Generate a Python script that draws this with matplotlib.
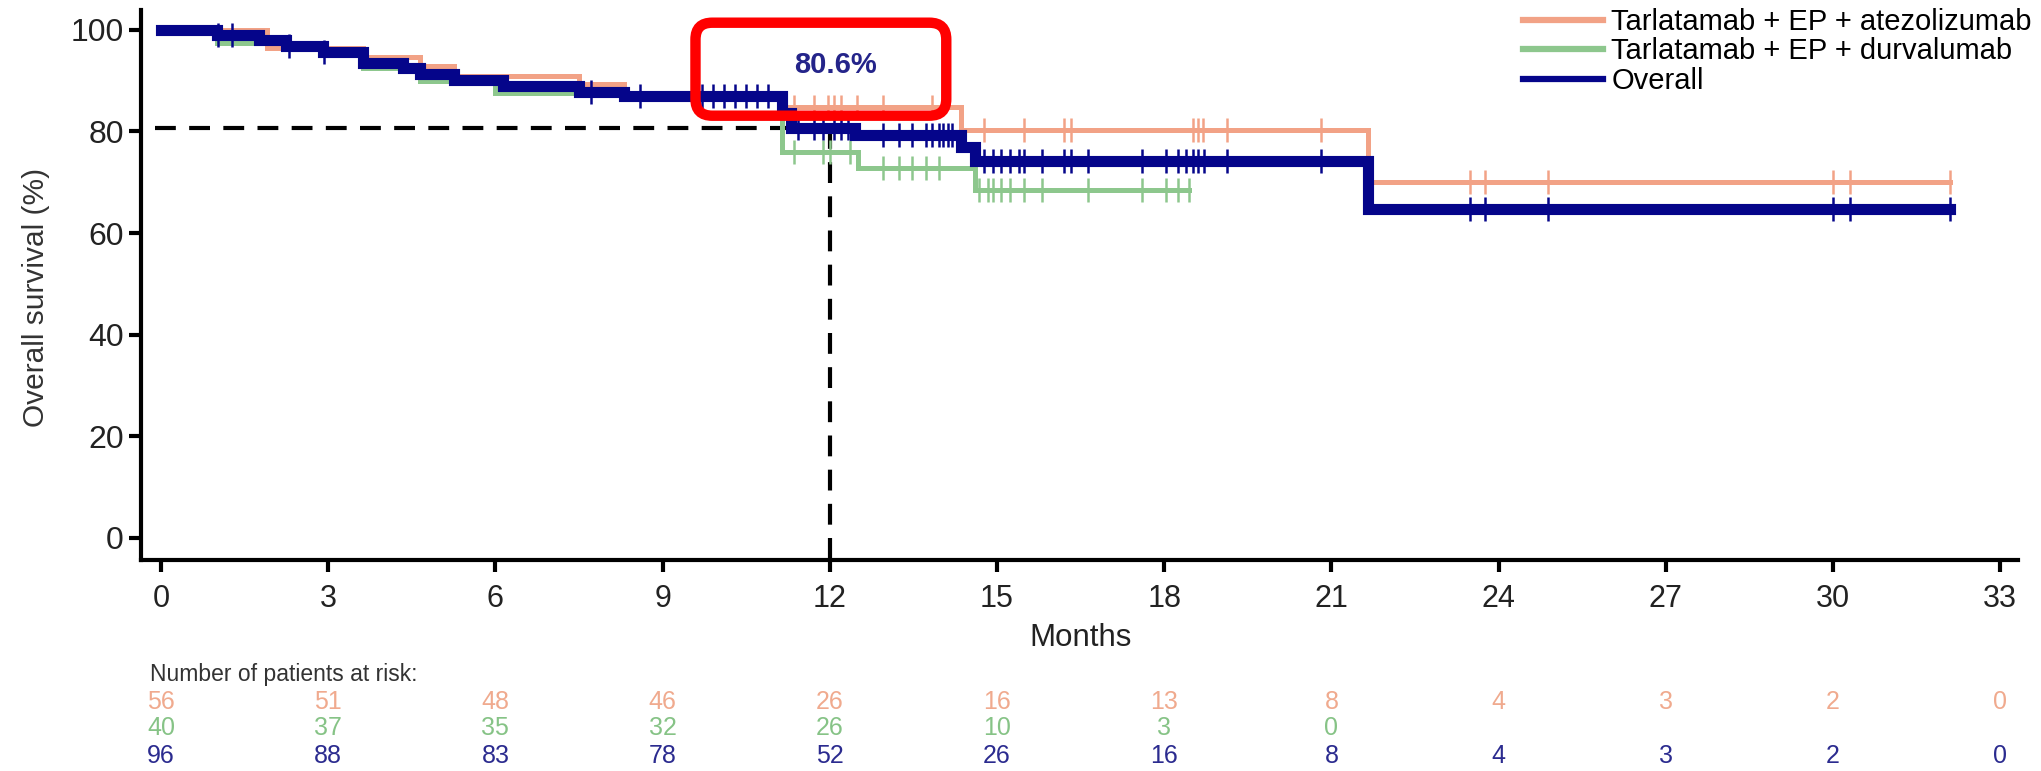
import numpy as np
import matplotlib
matplotlib.use('Agg')
import matplotlib.pyplot as plt
from matplotlib.lines import Line2D
from matplotlib.patches import FancyBboxPatch
from matplotlib import transforms

plt.rcParams['font.family'] = ['Liberation Sans', 'DejaVu Sans']

# --- KM step data (months, overall survival %) ---
atezo_t = [0, 1.9, 3.63, 4.65, 5.25, 7.5, 8.3, 11.2, 14.35, 21.65]
atezo_s = [100, 96.4, 94.6, 92.8, 91.0, 89.3, 87.5, 84.9, 80.3, 70.1]
atezo_end = 32.1
atezo_cens = [11.35, 11.72, 11.96, 12.08, 12.2, 12.48, 12.96, 13.83,
              14.76, 15.48, 16.2, 16.32, 18.52, 18.6, 18.69, 19.13, 20.81,
              23.49, 23.76, 24.89, 30.0, 30.3, 32.1]

durva_t = [0, 1.0, 2.9, 3.63, 4.65, 6.0, 11.15, 12.5, 14.6]
durva_s = [100, 97.5, 95.0, 92.5, 90.0, 87.5, 76.0, 72.8, 68.4]
durva_end = 18.45
durva_cens = [11.35, 11.88, 12.0, 12.37, 12.96, 13.24, 13.48, 13.72, 13.96,
              14.68, 14.84, 14.92, 15.08, 15.24, 15.48, 15.8, 16.64, 17.6,
              18.04, 18.24, 18.45]

overall_t = [0, 1.0, 1.75, 2.25, 2.9, 3.63, 4.35, 4.65, 5.25, 6.14, 7.5, 8.3,
             11.15, 11.3, 12.45, 14.35, 14.6, 21.65]
overall_s = [100, 99.0, 97.9, 96.8, 95.7, 93.5, 92.4, 91.3, 90.2, 88.9, 87.8,
             86.9, 83.6, 80.6, 79.4, 77.0, 74.1, 64.8]
overall_end = 32.1
overall_cens = [1.03, 1.27, 2.3, 2.93, 7.71, 8.6, 9.7, 9.9, 10.1, 10.3, 10.5,
                10.7, 10.9, 11.43, 11.72, 11.88, 12.08, 12.2, 12.32,
                12.96, 13.24, 13.48, 13.72, 13.83, 13.96, 14.04, 14.12, 14.2,
                14.76, 14.92, 15.08, 15.24, 15.4, 15.48, 15.8, 16.2, 16.32,
                16.64, 17.6, 18.04, 18.24, 18.4, 18.52, 18.6, 18.72, 19.13,
                20.81, 23.49, 23.76, 24.89, 30.0, 30.3, 32.1]

landmark_month = 12
landmark_os = 80.6

# number at risk
risk_months = [0, 3, 6, 9, 12, 15, 18, 21, 24, 27, 30, 33]
risk_atezo = [56, 51, 48, 46, 26, 16, 13, 8, 4, 3, 2, 0]
risk_durva = [40, 37, 35, 32, 26, 10, 3, 0]
risk_overall = [96, 88, 83, 78, 52, 26, 16, 8, 4, 3, 2, 0]

labels = ['Tarlatamab + EP + atezolizumab', 'Tarlatamab + EP + durvalumab', 'Overall']
c_atezo = '#F2A286'
c_durva = '#8DC78D'
c_overall = '#05058A'
risk_colors = ['#F0AA8E', '#86C386', '#2B2B8F']


def step_at(t, s, x):
    idx = np.searchsorted(t, x, side='right') - 1
    return np.array(s)[idx]


fig = plt.figure(figsize=(20.41, 7.71), dpi=100)
ax = fig.add_axes([141/2041, 1-560/771, 1877/2041, 550/771])

xlim = (-0.359, 33.32)
ylim = (-4.33, 103.9)

curves = [(atezo_t, atezo_s, atezo_end, atezo_cens, c_atezo, 3.6, 2),
          (durva_t, durva_s, durva_end, durva_cens, c_durva, 3.6, 2),
          (overall_t, overall_s, overall_end, overall_cens, c_overall, 8.0, 3)]
for t, s, end, cens, col, lw, z in curves:
    tt = list(t) + [end]
    ss = list(s) + [s[-1]]
    ax.plot(tt, ss, drawstyle='steps-post', color=col, lw=lw, zorder=z,
            solid_joinstyle='miter')
    cy = step_at(t, s, np.array(cens))
    ax.plot(cens, cy, ls='none', marker='|', ms=17, mew=1.8, color=col,
            zorder=z + 0.5)

# landmark dashed lines
ax.plot([-0.1, landmark_month], [landmark_os, landmark_os], color='black',
        lw=3, dashes=(5, 3.2), zorder=1)
ax.plot([landmark_month, landmark_month], [landmark_os, ylim[0]], color='black',
        lw=3, dashes=(5, 3.2), zorder=1, clip_on=False)

ax.set_xlim(*xlim)
ax.set_ylim(*ylim)

# red highlight box
aspect = (1877/(xlim[1]-xlim[0])) / (550/(ylim[1]-ylim[0]))
box = FancyBboxPatch((9.59, 83.1), 4.5, 18.3,
                     boxstyle='round,pad=0,rounding_size=0.3',
                     mutation_aspect=aspect, fill=False, ec='#FF0000',
                     lw=7.5, zorder=6, clip_on=False)
ax.add_patch(box)
ax.text(12.1, 93.0, '80.6%', color='#24248A', fontsize=21, fontweight='bold',
        ha='center', va='center', zorder=7)

# axes styling
for sp in ['top', 'right']:
    ax.spines[sp].set_visible(False)
for sp in ['left', 'bottom']:
    ax.spines[sp].set_linewidth(3)
ax.set_xticks(risk_months)
ax.set_yticks([0, 20, 40, 60, 80, 100])
ax.tick_params(axis='both', width=3, length=8.5, colors='black')
ax.tick_params(axis='y', labelsize=23, pad=4, labelcolor='#222222')
ax.tick_params(axis='x', labelsize=22, pad=9, labelcolor='#222222')

fig.text(36/2041, 1-297/771, 'Overall survival (%)', rotation=90,
         ha='center', va='center', fontsize=21.5, color='#333333')
fig.text(0.5 * (161 + 2000) / 2041, 1-638/771, 'Months', ha='center',
         va='center', fontsize=22.5, color='#222222')

# legend
handles = [Line2D([], [], color=c, lw=4.5) for c in (c_atezo, c_durva, c_overall)]
fig.legend(handles, labels, loc='upper right', bbox_to_anchor=(2032/2041, 1-8/771),
           frameon=False, fontsize=21, handlelength=2.75, handletextpad=0.3,
           labelspacing=0.05, borderpad=0, borderaxespad=0)

# number at risk table
trans = transforms.blended_transform_factory(ax.transData, fig.transFigure)
fig.text(150/2041, 1-675/771, 'Number of patients at risk:', ha='left',
         va='center', fontsize=16.5, color='#333333')
for row, col, yp in zip([risk_atezo, risk_durva, risk_overall], risk_colors,
                        [702, 728, 756]):
    for m, n in zip(risk_months, row):
        ax.text(m, 1 - yp/771, str(n), transform=trans, ha='center', va='center',
                fontsize=18, color=col)

fig.savefig('out.png', dpi=100)
